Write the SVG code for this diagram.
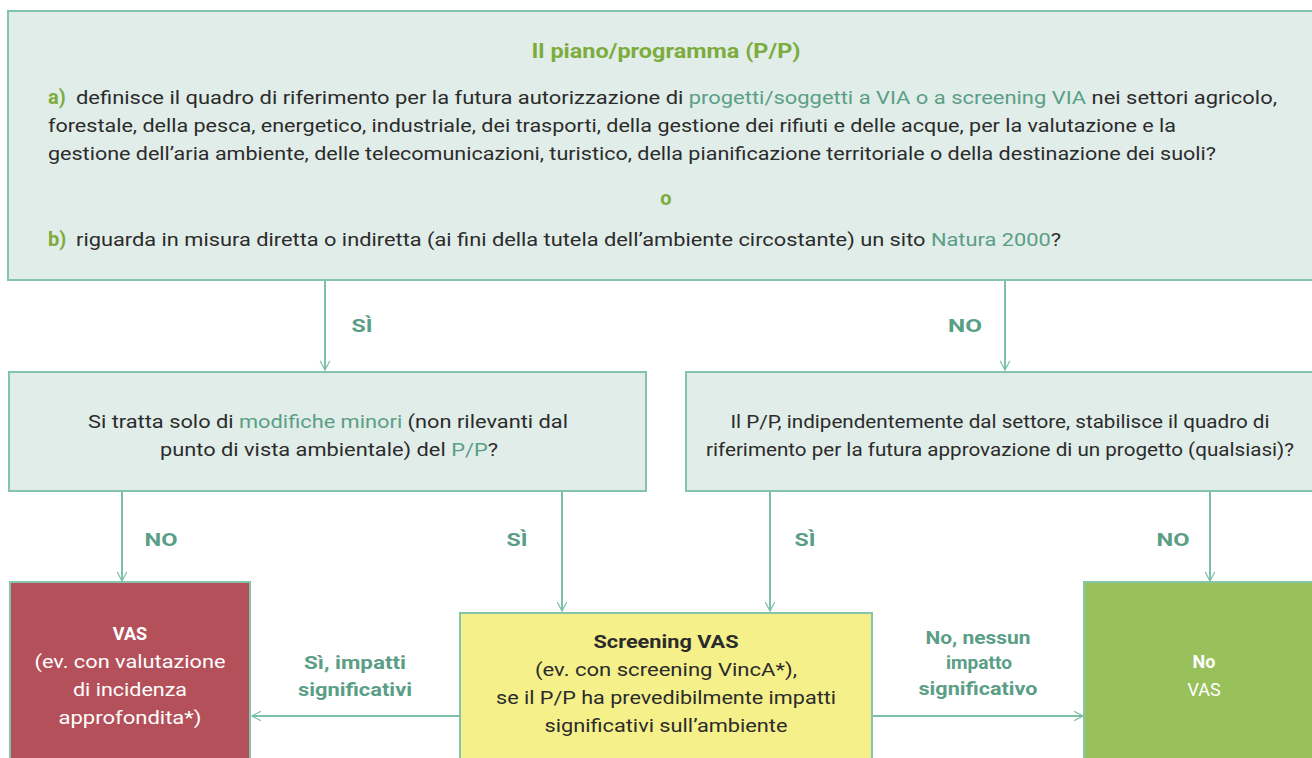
<svg xmlns="http://www.w3.org/2000/svg" width="1312" height="758" viewBox="0 0 1312 758">
<style>
.box{fill:#e1ede9;stroke:#84c4ab;stroke-width:2}
.t{font-family:"Roboto","Liberation Sans",sans-serif;font-size:18px;fill:#2b2b2b}
.hl{fill:#5b9e86}
.gr{fill:#7cac3c;font-weight:bold}
.big{font-size:20px}
.w{fill:#ffffff}
.b{font-weight:bold}
.lbl{font-family:"Roboto","Liberation Sans",sans-serif;font-size:19px;font-weight:bold;fill:#5b9e86;text-anchor:middle}
.ln{fill:none;stroke:#7cc0a6;stroke-width:2}
.c{text-anchor:middle}
</style>
<defs>
<marker id="arr" viewBox="0 0 20 20" refX="18" refY="10" markerWidth="12" markerHeight="12" markerUnits="userSpaceOnUse" orient="auto">
<path d="M3 2 L18 10 L3 18" fill="none" stroke="#7cc0a6" stroke-width="2"/>
</marker>
</defs>

<g id="connectors">
<line class="ln" x1="325" y1="280" x2="325" y2="370" marker-end="url(#arr)"/>
<line class="ln" x1="1005" y1="280" x2="1005" y2="370" marker-end="url(#arr)"/>
<line class="ln" x1="122" y1="491" x2="122" y2="581" marker-end="url(#arr)"/>
<line class="ln" x1="562" y1="491" x2="562" y2="611" marker-end="url(#arr)"/>
<line class="ln" x1="770" y1="491" x2="770" y2="611" marker-end="url(#arr)"/>
<line class="ln" x1="1210" y1="491" x2="1210" y2="581" marker-end="url(#arr)"/>
<line class="ln" x1="460" y1="716" x2="252" y2="716" marker-end="url(#arr)"/>
<line class="ln" x1="872" y1="716" x2="1083" y2="716" marker-end="url(#arr)"/>
<text class="lbl" x="362" y="332" textLength="21" lengthAdjust="spacingAndGlyphs">SÌ</text>
<text class="lbl" x="965" y="332" textLength="34" lengthAdjust="spacingAndGlyphs">NO</text>
<text class="lbl" x="161" y="546" textLength="33" lengthAdjust="spacingAndGlyphs">NO</text>
<text class="lbl" x="517" y="546" textLength="21" lengthAdjust="spacingAndGlyphs">SÌ</text>
<text class="lbl" x="805" y="546" textLength="21" lengthAdjust="spacingAndGlyphs">SÌ</text>
<text class="lbl" x="1173" y="546" textLength="33" lengthAdjust="spacingAndGlyphs">NO</text>
<text class="lbl" x="355" y="669" textLength="102" lengthAdjust="spacingAndGlyphs">Sì, impatti</text>
<text class="lbl" x="355" y="696" textLength="114" lengthAdjust="spacingAndGlyphs">significativi</text>
<text class="lbl" x="978" y="644" textLength="105" lengthAdjust="spacingAndGlyphs">No, nessun</text>
<text class="lbl" x="979" y="669" textLength="66" lengthAdjust="spacingAndGlyphs">impatto</text>
<text class="lbl" x="978" y="695" textLength="119" lengthAdjust="spacingAndGlyphs">significativo</text>
</g>

<g id="node-pp">
<rect class="box" x="8" y="11" width="1310" height="269"/>
<text class="t gr c big" x="666" y="58" textLength="269" lengthAdjust="spacingAndGlyphs">Il piano/programma (P/P)</text>
<text class="t gr big" x="48" y="104">a)</text>
<text class="t" x="76" y="104" textLength="1201" lengthAdjust="spacingAndGlyphs">definisce il quadro di riferimento per la futura autorizzazione di <tspan class="hl">progetti/soggetti a VIA o a screening VIA</tspan> nei settori agricolo,</text>
<text class="t" x="48" y="132" textLength="1128" lengthAdjust="spacingAndGlyphs">forestale, della pesca, energetico, industriale, dei trasporti, della gestione dei rifiuti e delle acque, per la valutazione e la</text>
<text class="t" x="48" y="160" textLength="1168" lengthAdjust="spacingAndGlyphs">gestione dell’aria ambiente, delle telecomunicazioni, turistico, della pianificazione territoriale o della destinazione dei suoli?</text>
<text class="t gr c big" x="666" y="205">o</text>
<text class="t gr big" x="48" y="246">b)</text>
<text class="t" x="76" y="246" textLength="985" lengthAdjust="spacingAndGlyphs">riguarda in misura diretta o indiretta (ai fini della tutela dell’ambiente circostante) un sito <tspan class="hl">Natura 2000</tspan>?</text>
</g>

<g id="node-minori">
<rect class="box" x="9" y="372" width="637" height="119"/>
<text class="t c" x="328" y="428" textLength="480" lengthAdjust="spacingAndGlyphs">Si tratta solo di <tspan class="hl">modifiche minori</tspan> (non rilevanti dal</text>
<text class="t c" x="329" y="456" textLength="338" lengthAdjust="spacingAndGlyphs">punto di vista ambientale) del <tspan class="hl">P/P</tspan>?</text>
</g>

<g id="node-quadro">
<rect class="box" x="686" y="372" width="632" height="119"/>
<text class="t c" x="1000" y="428" textLength="539" lengthAdjust="spacingAndGlyphs">Il P/P, indipendentemente dal settore, stabilisce il quadro di</text>
<text class="t c" x="1000" y="456" textLength="588" lengthAdjust="spacingAndGlyphs">riferimento per la futura approvazione di un progetto (qualsiasi)?</text>
</g>

<g id="node-vas">
<rect x="10" y="582" width="240" height="190" fill="#b4505a" stroke="#84c4ab" stroke-width="2"/>
<text class="t w b c" x="130" y="640">VAS</text>
<text class="t w c" x="130" y="668" textLength="191" lengthAdjust="spacingAndGlyphs">(ev. con valutazione</text>
<text class="t w c" x="130" y="696" textLength="114" lengthAdjust="spacingAndGlyphs">di incidenza</text>
<text class="t w c" x="130" y="724" textLength="143" lengthAdjust="spacingAndGlyphs">approfondita*)</text>
</g>

<g id="node-screening">
<rect x="460" y="613" width="412" height="160" fill="#f5f08a" stroke="#84c4ab" stroke-width="2"/>
<text class="t b c" x="666" y="648" textLength="145" lengthAdjust="spacingAndGlyphs">Screening VAS</text>
<text class="t c" x="666" y="676" textLength="262" lengthAdjust="spacingAndGlyphs">(ev. con screening VincA*),</text>
<text class="t c" x="666" y="704" textLength="340" lengthAdjust="spacingAndGlyphs">se il P/P ha prevedibilmente impatti</text>
<text class="t c" x="666" y="732" textLength="243" lengthAdjust="spacingAndGlyphs">significativi sull’ambiente</text>
</g>

<g id="node-novas">
<rect x="1084" y="582" width="234" height="190" fill="#99c15b" stroke="#84c4ab" stroke-width="2"/>
<text class="t w b c" x="1204" y="668">No</text>
<text class="t w c" x="1204" y="696">VAS</text>
</g>
</svg>
